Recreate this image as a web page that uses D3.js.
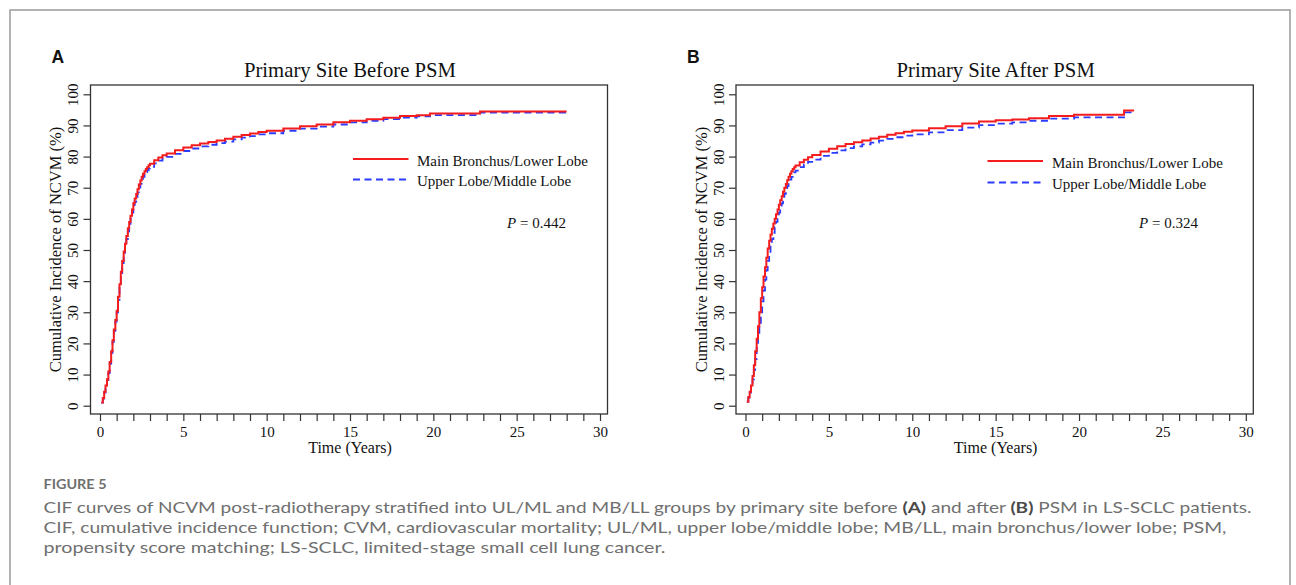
<!DOCTYPE html>
<html>
<meta charset="utf-8">
<style>
  body { margin: 0; background: #fff; }
  svg text { font-family: "Liberation Serif", "Times New Roman", serif; fill: #111; }
</style>
<body>
<script src="https://d3js.org/d3.v7.min.js"></script>
<script>
  // ---- data ----
  const xTickValues = d3.range(0, 31);          // a tick every year, label every 5
  const yTickValues = [0, 10, 20, 30, 40, 50, 60, 70, 80, 90, 100];
  const groupNames = ["Main Bronchus/Lower Lobe", "Upper Lobe/Middle Lobe"];
  const panelTitles = ["Primary Site Before PSM", "Primary Site After PSM"];
  const panelLetters = ["A", "B"];
  const pValues = ["0.442", "0.324"];

  // [time in years, cumulative incidence %]
  const beforeMBLL = [[0.08,1.0],[0.17,2.5],[0.25,4.5],[0.33,6.5],[0.42,8.5],[0.5,11],[0.58,14],[0.67,17.5],[0.75,21],[0.83,24.5],[0.92,27.5],[1.0,30.5],
    [1.08,35],[1.17,39],[1.25,43],[1.33,46.5],[1.42,49.5],[1.5,52],[1.58,54.5],[1.67,57],[1.75,59],[1.83,61],[1.92,63],[2.0,65],
    [2.08,66.5],[2.17,68],[2.25,69.5],[2.33,71],[2.42,72.3],[2.5,73.5],[2.58,74.5],[2.67,75.3],[2.75,76.0],[2.83,76.6],[2.92,77.2],[3.0,77.7],
    [3.25,78.8],[3.5,79.7],[3.75,80.4],[4.0,81.0],[4.5,82.0],[5.0,82.9],[5.5,83.6],[6.0,84.2],[6.5,84.7],[7.0,85.2],[7.5,85.7],[8.0,86.4],
    [8.5,86.9],[9.0,87.4],[9.5,87.9],[10,88.3],[11,89.0],[12,89.7],[13,90.3],[14,91.0],[15,91.5],[16,92.0],[17,92.5],[18,93.0],[19,93.3],
    [19.8,93.8],[22.8,94.5],[28.0,94.5]];
  const beforeULML = [[0.08,1.0],[0.17,2.3],[0.25,4.2],[0.33,6.2],[0.42,8.2],[0.5,10.5],[0.58,13.5],[0.67,17],[0.75,20.5],[0.83,24],[0.92,27],[1.0,30],
    [1.08,34],[1.17,38],[1.25,42],[1.33,45.5],[1.42,48.5],[1.5,51],[1.58,53.5],[1.67,56],[1.75,58],[1.83,60],[1.92,62],[2.0,64],
    [2.08,65.5],[2.17,67],[2.25,68.5],[2.33,70],[2.42,71.3],[2.5,72.5],[2.58,73.5],[2.67,74.3],[2.75,75.0],[2.83,75.6],[2.92,76.2],[3.0,76.7],
    [3.25,77.8],[3.5,78.7],[3.75,79.3],[4.0,79.9],[4.5,80.9],[5.0,81.8],[5.5,82.6],[6.0,83.3],[6.5,83.8],[7.0,84.3],[7.5,84.8],[8.0,85.5],
    [8.5,86.1],[9.0,86.6],[9.5,87.1],[10,87.5],[11,88.3],[12,89.0],[13,89.6],[14,90.3],[15,91.0],[16,91.5],[17,92.0],[18,92.5],[19,92.9],
    [19.8,93.3],[22.8,94.1],[28.0,94.1]];
  const afterMBLL = [[0.08,1.3],[0.17,2.8],[0.25,4.5],[0.33,6.5],[0.42,9.5],[0.5,13],[0.58,17.5],[0.67,21.5],[0.75,25.5],[0.83,30],[0.92,34.5],[1.0,38],
    [1.08,41.5],[1.17,44.5],[1.25,47.5],[1.33,50.5],[1.42,53],[1.5,55],[1.58,56.8],[1.67,58.5],[1.75,60],[1.83,61.5],[1.92,63],[2.0,64.5],
    [2.08,66],[2.17,67.3],[2.25,68.7],[2.33,70],[2.42,71.2],[2.5,72.4],[2.58,73.5],[2.67,74.5],[2.75,75.3],[2.83,76],[2.92,76.6],[3.0,77.1],
    [3.25,78.2],[3.5,79.0],[3.75,79.8],[4.0,80.5],[4.5,81.6],[5.0,82.5],[5.5,83.3],[6.0,84.0],[6.5,84.6],[7.0,85.2],[7.5,85.8],[8.0,86.4],
    [8.5,87.0],[9.0,87.5],[9.5,88.0],[10,88.4],[11,89.1],[12,89.7],[13,90.6],[14,91.3],[15,91.7],[16,91.9],[17,92.3],[18.2,93.0],[19.7,93.4],
    [22.7,94.8],[23.3,94.8]];
  const afterULML = [[0.08,1.3],[0.17,2.6],[0.25,4.2],[0.33,6.0],[0.42,8.5],[0.5,11.5],[0.58,15],[0.67,18.5],[0.75,22],[0.83,26],[0.92,30],[1.0,33.5],
    [1.08,37],[1.17,40.5],[1.25,43.5],[1.33,46.5],[1.42,49],[1.5,51.5],[1.58,53.5],[1.67,55.5],[1.75,57.3],[1.83,59],[1.92,60.5],[2.0,62],
    [2.08,63.5],[2.17,65],[2.25,66.5],[2.33,68],[2.42,69.3],[2.5,70.5],[2.58,71.6],[2.67,72.6],[2.75,73.5],[2.83,74.2],[2.92,74.9],[3.0,75.5],
    [3.25,76.6],[3.5,77.5],[3.75,78.3],[4.0,79.0],[4.5,80.2],[5.0,81.2],[5.5,82.0],[6.0,82.7],[6.5,83.3],[7.0,83.9],[7.5,84.5],[8.0,85.1],
    [8.5,85.7],[9.0,86.2],[9.5,86.7],[10,87.1],[11,87.8],[12,88.5],[13,89.3],[14,90.1],[15,90.6],[16,91.0],[17,91.5],[18.2,92.2],[19.7,92.6],
    [22.7,94.2],[23.2,94.2]];

  const captionTitle = "FIGURE 5";
  const captionLines = [
    ["CIF curves of NCVM post-radiotherapy stratified into UL/ML and MB/LL groups by primary site before ", ["(A)"], " and after ", ["(B)"], " PSM in LS-SCLC patients."],
    ["CIF, cumulative incidence function; CVM, cardiovascular mortality; UL/ML, upper lobe/middle lobe; MB/LL, main bronchus/lower lobe; PSM,"],
    ["propensity score matching; LS-SCLC, limited-stage small cell lung cancer."]
  ];

  // ---- layout ----
  const width = 1296, height = 585;
  const boxTop = 85, boxBottom = 414;
  const panels = [
    { boxL: 90.5, boxR: 607.5, letterX: 51.5, legendX: 353, textX: 417, pX: 507, series: [beforeULML, beforeMBLL] },
    { boxL: 736, boxR: 1253.3, letterX: 687, legendX: 987.5, textX: 1052, pX: 1139, series: [afterULML, afterMBLL] }
  ];
  const colors = ["#2a3cff", "#f41c1c"];   // blue = UL/ML, red = MB/LL

  const svg = d3.select("body").append("svg")
      .attr("width", width)
      .attr("height", height);

  // outer frame of the figure
  svg.append("rect")
      .attr("x", 10).attr("y", 10)
      .attr("width", 1280).attr("height", 620)
      .attr("fill", "none").attr("stroke", "#9a9a9a").attr("stroke-width", 1.5);

  panels.forEach((p, i) => {
    const g = svg.append("g");
    const x = d3.scaleLinear().domain([0, 30]).range([p.boxL + 9.5, p.boxR - 7.5]);
    const y = d3.scaleLinear().domain([0, 100]).range([405.7, 94.3]);

    // x axis
    const xa = g.append("g")
        .attr("transform", `translate(0,${boxBottom})`)
        .call(d3.axisBottom(x).tickValues(xTickValues).tickSize(7).tickSizeOuter(0)
          .tickFormat(d => d % 5 === 0 ? d : ""));
    xa.select(".domain").remove();
    xa.selectAll(".tick line").attr("stroke", "#333").attr("stroke-width", 1.2);
    xa.selectAll(".tick text")
        .attr("y", 22.5).attr("dy", null)
        .attr("font-size", 15).attr("font-family", null).attr("fill", "#111");

    // y axis
    const ya = g.append("g")
        .attr("transform", `translate(${p.boxL},0)`)
        .call(d3.axisLeft(y).tickValues(yTickValues).tickSize(7).tickSizeOuter(0));
    ya.select(".domain").remove();
    ya.selectAll(".tick line").attr("stroke", "#333").attr("stroke-width", 1.2);
    ya.selectAll(".tick text")
        .attr("x", null).attr("dy", null)
        .attr("transform", "translate(-12.5,0) rotate(-90)")
        .attr("text-anchor", "middle")
        .attr("font-size", 15).attr("font-family", null).attr("fill", "#111");

    // plot box
    g.append("rect")
        .attr("x", p.boxL).attr("y", boxTop)
        .attr("width", p.boxR - p.boxL).attr("height", boxBottom - boxTop)
        .attr("fill", "none").attr("stroke", "#333").attr("stroke-width", 1.3);

    // CIF step curves
    const line = d3.line()
        .x(d => x(d[0]))
        .y(d => y(d[1]))
        .curve(d3.curveStepAfter);

    p.series.forEach((s, k) => {
      g.append("path")
          .datum(s)
          .attr("d", line)
          .attr("fill", "none")
          .attr("stroke", colors[k])
          .attr("stroke-width", k === 0 ? 1.8 : 2)
          .attr("stroke-dasharray", k === 0 ? "7,4.5" : null);
    });

    // titles
    g.append("text")
        .attr("x", x(15)).attr("y", 77)
        .attr("text-anchor", "middle")
        .attr("font-size", 20.7)
        .text(panelTitles[i]);

    g.append("text")
        .attr("x", p.letterX).attr("y", 63.3)
        .style("font-family", "'Liberation Sans', Arial, sans-serif")
        .attr("font-weight", "bold")
        .attr("font-size", 17.5)
        .text(panelLetters[i]);

    g.append("text")
        .attr("transform", `translate(${p.boxL - 29.5},${(boxTop + boxBottom) / 2}) rotate(-90)`)
        .attr("text-anchor", "middle")
        .attr("font-size", 16.5)
        .text("Cumulative Incidence of NCVM (%)");

    g.append("text")
        .attr("x", x(15)).attr("y", 453)
        .attr("text-anchor", "middle")
        .attr("font-size", 16)
        .text("Time (Years)");

    // legend (MB/LL first, then UL/ML)
    const legendRows = [
      { name: groupNames[0], color: colors[1], dash: null, w: 2 },
      { name: groupNames[1], color: colors[0], dash: "7,4.5", w: 1.8 }
    ];
    const rowY = i === 0 ? [159, 179.5] : [161, 182.5];
    legendRows.forEach((r, k) => {
      g.append("line")
          .attr("x1", p.legendX).attr("x2", p.legendX + 55.5)
          .attr("y1", rowY[k]).attr("y2", rowY[k])
          .attr("stroke", r.color).attr("stroke-width", r.w)
          .attr("stroke-dasharray", r.dash);
      g.append("text")
          .attr("x", p.textX).attr("y", rowY[k] + 6.5)
          .attr("font-size", 15)
          .text(r.name);
    });

    const pt = g.append("text")
        .attr("x", p.pX).attr("y", 227.7)
        .attr("font-size", 15);
    pt.append("tspan").attr("font-style", "italic").text("P");
    pt.append("tspan").text(" = " + pValues[i]);
  });

  // caption
  const capColor = "#6f6f6f";
  const capFont = "Lato, 'Open Sans', sans-serif";
  svg.append("text")
      .attr("x", 43.5).attr("y", 488.5)
      .style("font-family", capFont)
      .attr("font-weight", 700)
      .attr("font-size", 13.5)
      .attr("textLength", 63)
      .attr("lengthAdjust", "spacingAndGlyphs")
      .style("fill", capColor)
      .text(captionTitle);

  const capY = [512.5, 532.8, 553];
  const capWidths = [1208, 1183, 622];
  captionLines.forEach((parts, li) => {
    const t = svg.append("text")
        .attr("x", 43.5).attr("y", capY[li])
        .style("font-family", capFont)
        .attr("font-size", 16)
        .attr("textLength", capWidths[li])
        .attr("lengthAdjust", "spacingAndGlyphs")
        .style("fill", capColor);
    parts.forEach(part => {
      if (Array.isArray(part)) {
        t.append("tspan").attr("font-weight", 700).style("fill", "#4a4a4a").text(part[0]);
      } else {
        t.append("tspan").text(part);
      }
    });
  });
</script>
</body>
</html>
